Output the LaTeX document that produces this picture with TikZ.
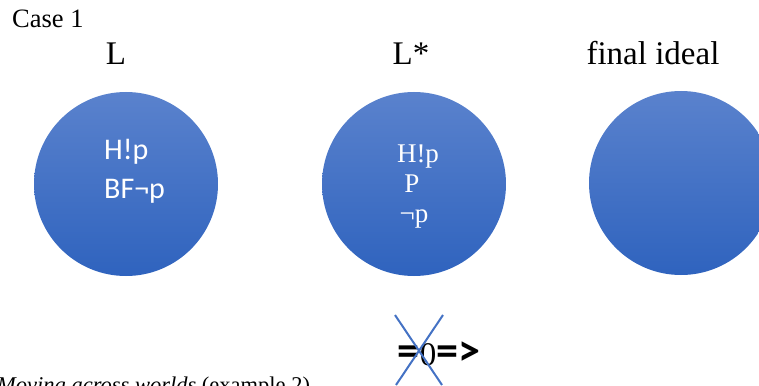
\documentclass[tikz,border=0pt]{standalone}
\usepackage{fontspec}
\setmainfont{Liberation Serif}
\newfontfamily\calib{Carlito}
\definecolor{ballTop}{RGB}{90,130,205}
\definecolor{ballBot}{RGB}{47,99,190}
\definecolor{crossBlue}{RGB}{68,114,196}
\tikzset{
  world/.style={circle, minimum size=184pt, inner sep=0pt, top color=ballTop, bottom color=ballBot, draw=none},
  head/.style={font=\fontsize{33}{36}\selectfont, inner sep=0pt, anchor=base},
  intext/.style={text=white, inner sep=0pt, anchor=base west},
  crossline/.style={draw=crossBlue, line width=2pt}
}
\begin{document}
\begin{tikzpicture}[x=1pt,y=-1pt]
\useasboundingbox (0,0) rectangle (759,385);
\clip (0,0) rectangle (759,385);
% title
\node[inner sep=0pt, anchor=base west, font=\fontsize{26.5}{29}\selectfont] (case) at (12,28) {Case 1};
% world headings
\node[head] (hL) at (116,65) {L};
\node[head] (hLs) at (411,65) {L*};
\node[head] (hF) at (653,65) {final ideal};
% worlds
\node[world] (wL) at (126,184) {};
\node[world] (wLs) at (414,184) {};
\node[world] (wF) at (681,183) {};
% contents of L
\node[intext, font=\calib\fontsize{30}{33}\selectfont] (l1) at (104,159) {H!p};
\node[intext, font=\calib\fontsize{30}{33}\selectfont] (l2) at (104,198) {BF¬p};
% contents of L*
\node[text=white, inner sep=0pt, anchor=base, font=\fontsize{27}{30}\selectfont] (m1) at (418,162) {H!p};
\node[text=white, inner sep=0pt, anchor=base, font=\fontsize{27}{30}\selectfont] (m2) at (412,192) {P};
\node[text=white, inner sep=0pt, anchor=base, font=\fontsize{27}{30}\selectfont] (m3) at (414,222) {¬p};
% crossed-out arrow
\node[inner sep=0pt, anchor=base, font=\calib\bfseries\fontsize{44}{48}\selectfont] (arr) at (439,365) {=\textrm{\mdseries\fontsize{33}{36}\selectfont 0}=>};
\coordinate (xa) at (395,315);
\coordinate (xb) at (442,385);
\coordinate (xc) at (443,315);
\coordinate (xd) at (396,385);
\draw[crossline] (xa) -- (xb);
\draw[crossline] (xc) -- (xd);
% caption
\node[inner sep=0pt, anchor=base west, font=\fontsize{22.5}{25}\selectfont] (cap) at (-3,392) {\textit{Moving across worlds} (example 2)};
\end{tikzpicture}
\end{document}
